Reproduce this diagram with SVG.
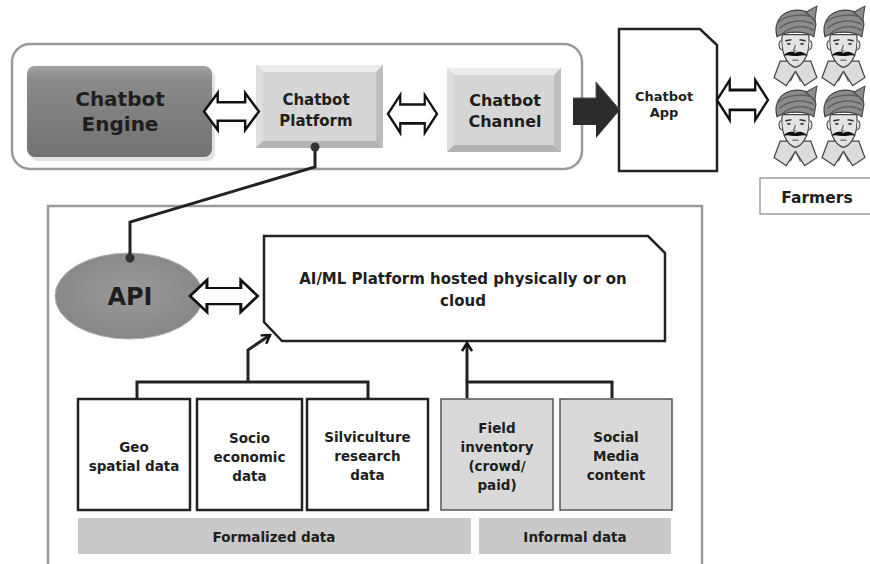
<svg xmlns="http://www.w3.org/2000/svg" xmlns:xlink="http://www.w3.org/1999/xlink" width="870" height="564" viewBox="0 0 870 564">
  <style>
    text { font-family: "DejaVu Sans", "Liberation Sans", sans-serif; font-weight: bold; fill: #1e1e1e; text-anchor: middle; }
    .frame { fill: none; stroke: #9a9a9a; stroke-width: 2.5; }
    .box { fill: #ffffff; stroke: #222; stroke-width: 2.5; }
    .gbox { fill: #d9d9d9; stroke: #555; stroke-width: 1.5; }
    .bar { fill: #c9c9c9; }
    .dbl { fill: #ffffff; stroke: #111; stroke-width: 2.5; stroke-linejoin: miter; }
    .wire { fill: none; stroke: #222; stroke-width: 3; }
    .t13 { font-size: 13.5px; }
  </style>
  <defs>
    <linearGradient id="engineFill" x1="0" y1="0" x2="0" y2="1">
      <stop offset="0" stop-color="#a2a2a2"/>
      <stop offset="0.15" stop-color="#8a8a8a"/>
      <stop offset="1" stop-color="#727272"/>
    </linearGradient>
    <radialGradient id="apiFill" cx="0.5" cy="0.45" r="0.6">
      <stop offset="0" stop-color="#9a9a9a"/>
      <stop offset="1" stop-color="#858585"/>
    </radialGradient>
    <marker id="open" viewBox="0 0 12 12" refX="10" refY="6" markerWidth="12" markerHeight="12" markerUnits="userSpaceOnUse" orient="auto">
      <path d="M2,1 L10,6 L2,11" fill="none" stroke="#111" stroke-width="2.5"/>
    </marker>
    <!-- hollow two-way arrow, 56 x 36 -->
    <path id="twoWay" d="M0,18 L14,0 L14,9 L42,9 L42,0 L56,18 L42,36 L42,27 L14,27 L14,36 Z"/>
    <!-- turbaned farmer head, about 46 x 82 -->
    <g id="farmer">
      <path d="M8,60 L2,76 L14,84 L23,70 L32,84 L44,76 L38,60 Z" fill="#dcdcdc" stroke="#444" stroke-width="1.2"/>
      <path d="M23,70 L18,80 M23,70 L28,80" stroke="#555" stroke-width="1" fill="none"/>
      <path d="M10,34 C8,50 14,64 23,66 C32,64 38,50 36,34 Z" fill="#e4e4e4" stroke="#444" stroke-width="1.2"/>
      <path d="M9,40 C6,40 6,48 10,49 M37,40 C40,40 40,48 36,49" fill="#e4e4e4" stroke="#444" stroke-width="1"/>
      <path d="M5,36 C1,22 9,11 24,10 C34,10 42,14 43,24 L41,36 C33,30 14,30 5,36 Z" fill="#8c8c8c" stroke="#444" stroke-width="1.2"/>
      <path d="M33,12 L44,6 L42,20 Z" fill="#8c8c8c" stroke="#444" stroke-width="1"/>
      <path d="M7,28 C16,20 30,18 41,24 M6,22 C14,14 28,14 38,16 M10,33 C20,25 32,24 41,30" fill="none" stroke="#5a5a5a" stroke-width="1.2"/>
      <path d="M13,40 L19,39 M27,39 L33,40" stroke="#333" stroke-width="1.5"/>
      <path d="M15,43 L18,43 M28,43 L31,43" stroke="#333" stroke-width="1.5"/>
      <path d="M23,44 L21,50 L24,50" fill="none" stroke="#555" stroke-width="1"/>
      <path d="M11,55 C15,50 20,50 23,52 C26,50 31,50 35,55 C31,53 27,55 23,55 C19,55 15,53 11,55 Z" fill="#111"/>
      <path d="M20,59 L26,59" stroke="#555" stroke-width="1"/>
    </g>
  </defs>

  <!-- frames -->
  <rect class="frame" x="12" y="44" width="570" height="125" rx="18"/>
  <rect class="frame" x="48" y="206" width="654" height="372" stroke-width="2"/>

  <g id="chatbot-engine">
    <rect x="30" y="70" width="185" height="91" rx="8" fill="#cfcfcf" opacity="0.6"/>
    <rect x="27" y="66" width="185" height="91" rx="8" fill="url(#engineFill)"/>
    <text x="120" y="106" font-size="20">Chatbot</text>
    <text x="120" y="131" font-size="20">Engine</text>
  </g>

  <g id="chatbot-platform">
    <rect x="256" y="65" width="127" height="83" fill="#d6d6d6"/>
    <polygon points="256,65 383,65 376,72 263,72" fill="#ececec"/>
    <polygon points="256,65 263,72 263,141 256,148" fill="#dedede"/>
    <polygon points="383,65 383,148 376,141 376,72" fill="#bdbdbd"/>
    <polygon points="256,148 383,148 376,141 263,141" fill="#b3b3b3"/>
    <text x="316" y="105" font-size="15">Chatbot</text>
    <text x="316" y="126" font-size="15">Platform</text>
  </g>

  <g id="chatbot-channel">
    <rect x="447" y="68" width="114" height="84" fill="#d6d6d6"/>
    <polygon points="447,68 561,68 554,75 454,75" fill="#ececec"/>
    <polygon points="447,68 454,75 454,145 447,152" fill="#dedede"/>
    <polygon points="561,68 561,152 554,145 554,75" fill="#bdbdbd"/>
    <polygon points="447,152 561,152 554,145 454,145" fill="#b3b3b3"/>
    <text x="505" y="106" font-size="16">Chatbot</text>
    <text x="505" y="127" font-size="16">Channel</text>
  </g>

  <g id="chatbot-app">
    <path class="box" d="M619,29 L700,29 L717,45 L717,171 L619,171 Z" stroke-width="3"/>
    <text x="664" y="101" font-size="13">Chatbot</text>
    <text x="664" y="117" font-size="13">App</text>
  </g>

  <g id="farmers-group">
    <use href="#farmer" transform="translate(772,0) scale(1.02,1.02)"/>
    <use href="#farmer" transform="translate(820,0) scale(1.02,1.02)"/>
    <use href="#farmer" transform="translate(772,80) scale(1.02,1.02)"/>
    <use href="#farmer" transform="translate(820,80) scale(1.02,1.02)"/>
  </g>

  <g id="farmers">
    <rect x="760" y="178" width="112" height="36" fill="#fff" stroke="#888" stroke-width="1.2"/>
    <text x="817" y="203" font-size="15.5">Farmers</text>
  </g>

  <g id="api">
    <ellipse cx="129" cy="296" rx="74" ry="43" fill="url(#apiFill)" stroke="#b0b0b0" stroke-width="1"/>
    <text x="130" y="305" font-size="24">API</text>
  </g>

  <g id="aiml-platform">
    <path class="box" d="M264,236 L648,236 L665,253 L665,341 L282,341 L264,322 Z" stroke-width="3"/>
    <text x="463" y="284" font-size="15">AI/ML Platform hosted physically or on</text>
    <text x="463" y="306" font-size="15">cloud</text>
  </g>

  <g id="geo">
    <rect class="box" x="78" y="399" width="112" height="111"/>
    <text class="t13" x="134" y="452">Geo</text>
    <text class="t13" x="134" y="471">spatial data</text>
  </g>

  <g id="socio">
    <rect class="box" x="197" y="399" width="105" height="111"/>
    <text class="t13" x="249.5" y="443">Socio</text>
    <text class="t13" x="249.5" y="462">economic</text>
    <text class="t13" x="249.5" y="481">data</text>
  </g>

  <g id="silviculture">
    <rect class="box" x="307" y="399" width="121" height="111"/>
    <text class="t13" x="367.5" y="442">Silviculture</text>
    <text class="t13" x="367.5" y="461">research</text>
    <text class="t13" x="367.5" y="480">data</text>
  </g>

  <g id="field-inventory">
    <rect class="gbox" x="441" y="399" width="112" height="111"/>
    <text class="t13" x="497" y="433">Field</text>
    <text class="t13" x="497" y="452">inventory</text>
    <text class="t13" x="497" y="471">(crowd/</text>
    <text class="t13" x="497" y="490">paid)</text>
  </g>

  <g id="social-media">
    <rect class="gbox" x="560" y="399" width="112" height="111"/>
    <text class="t13" x="616" y="442">Social</text>
    <text class="t13" x="616" y="461">Media</text>
    <text class="t13" x="616" y="480">content</text>
  </g>

  <g id="formalized">
    <rect class="bar" x="78" y="518" width="393" height="36"/>
    <text x="274" y="542" font-size="13.5" fill="#333">Formalized data</text>
  </g>

  <g id="informal">
    <rect class="bar" x="479" y="518" width="192" height="36"/>
    <text x="575" y="542" font-size="13.5" fill="#333">Informal data</text>
  </g>

  <!-- connectors, drawn over the nodes so the end dots show -->
  <g id="connectors">
    <use href="#twoWay" class="dbl" transform="translate(204,93) scale(0.98,1.03)"/>
    <use href="#twoWay" class="dbl" transform="translate(388,95) scale(0.875,1.05)"/>
    <use href="#twoWay" class="dbl" transform="translate(717,80) scale(0.91,1.11)"/>
    <use href="#twoWay" class="dbl" transform="translate(190,280) scale(1.21,0.89)"/>
    <path d="M573,98 L596,98 L596,82 L620,110 L596,138 L596,125 L573,125 Z" fill="#2b2b2b"/>
    <path d="M573,98 L596,98 L596,82 L620,110" fill="none" stroke="#555" stroke-width="1"/>
    <path class="wire" d="M315,147 L315,167 L130,222 L130,258"/>
    <circle cx="315" cy="147" r="4.5" fill="#333"/>
    <circle cx="130" cy="258" r="4.5" fill="#333"/>
    <path class="wire" d="M137,398 V382 H368 V398"/>
    <path class="wire" d="M248,382 V350 L270,335" marker-end="url(#open)"/>
    <path class="wire" d="M467,398 V382 H612 V398"/>
    <path class="wire" d="M467,382 V343" marker-end="url(#open)"/>
  </g>
</svg>
